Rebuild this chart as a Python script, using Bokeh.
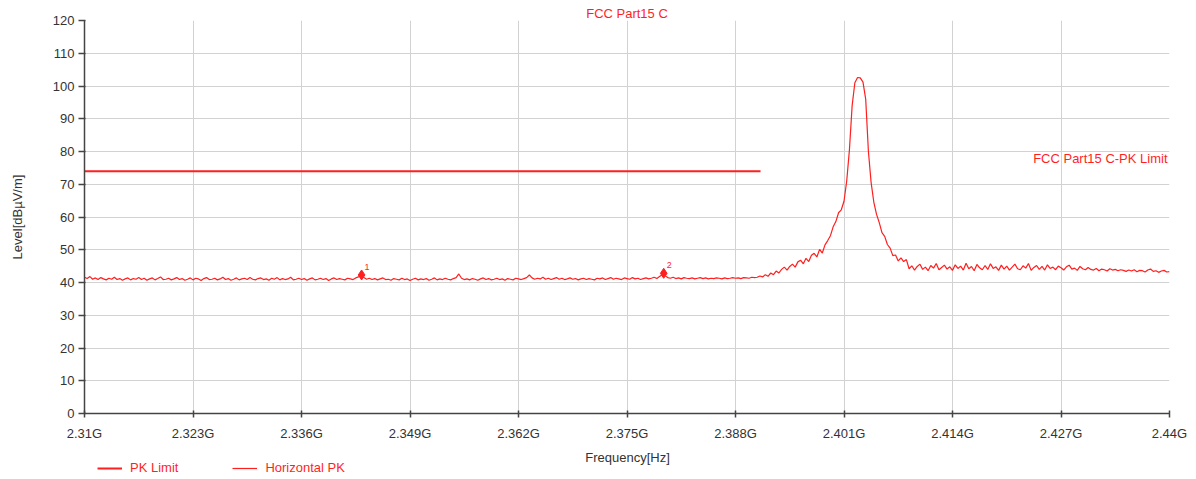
import numpy as np
from bokeh.plotting import figure
from bokeh.layouts import column
from bokeh.models import Label, Legend, LegendItem, FixedTicker, Range1d, ColumnDataSource
from bokeh.embed import file_html
from bokeh.resources import INLINE
from bokeh.core.properties import value

# ---------------- data ----------------
x_ticks = [2.31, 2.323, 2.336, 2.349, 2.362, 2.375, 2.388, 2.401, 2.414, 2.427, 2.44]
x_tick_labels = ["2.31G", "2.323G", "2.336G", "2.349G", "2.362G", "2.375G",
                 "2.388G", "2.401G", "2.414G", "2.427G", "2.44G"]
y_ticks = [0, 10, 20, 30, 40, 50, 60, 70, 80, 90, 100, 110, 120]

FREQ_START_GHZ = 2.31
FREQ_STOP_GHZ = 2.44

# Horizontal PK sweep (dBuV/m), evenly spaced sweep points
level_dbuv = [
    41.6, 41.2, 41.8, 41.0, 41.4, 40.9, 41.5, 41.1, 40.8, 41.3, 41.0, 41.6, 40.9, 41.2, 40.7, 41.1,
    41.4, 40.8, 41.2, 41.0, 41.5, 40.9, 41.3, 40.7, 41.1, 41.4, 40.8, 41.2, 41.7, 40.9, 41.0, 41.3,
    40.8, 41.1, 41.5, 40.9, 41.2, 40.7, 41.0, 41.4, 40.8, 41.3, 41.1, 40.6, 41.2, 41.5, 40.9, 41.0,
    41.3, 40.8, 41.1, 41.6, 40.9, 41.2, 40.7, 41.0, 41.4, 40.8, 41.1, 41.3, 40.9, 41.5, 41.0, 40.8,
    41.2, 41.4, 40.9, 41.1, 40.7, 41.3, 41.0, 41.5, 40.8, 41.2, 40.9, 41.1, 41.6, 40.8, 41.0, 41.3,
    40.9, 41.2, 40.7, 41.1, 41.4, 40.8, 41.0, 41.3, 40.9, 41.2, 40.6, 41.1, 41.4, 40.9, 41.2, 41.0,
    40.8, 41.3, 41.1, 40.9, 41.4, 41.7, 42.2, 41.5, 41.0, 41.3, 40.9, 41.2, 40.8, 41.1, 41.4, 40.9,
    41.0, 40.7, 41.2, 41.0, 40.8, 41.3, 40.9, 41.1, 40.6, 41.0, 41.3, 40.8, 41.1, 40.9, 41.2, 40.7,
    41.0, 41.4, 40.8, 41.1, 40.9, 41.3, 41.0, 40.8, 41.2, 41.5, 42.6, 41.3, 40.9, 41.1, 40.8, 41.2,
    41.0, 40.7, 41.1, 41.4, 40.9, 41.2, 40.8, 41.0, 41.3, 40.9, 41.1, 40.7, 41.2, 41.0, 40.8, 41.3,
    41.1, 40.9, 41.2, 41.5, 42.3, 41.4, 41.0, 41.3, 41.1, 41.6, 41.0, 41.3, 40.9, 41.2, 41.5, 41.0,
    41.3, 40.9, 41.1, 41.4, 41.0, 41.2, 40.8, 41.1, 41.3, 40.9, 41.2, 41.0, 40.8, 41.3, 41.1, 41.4,
    40.9, 41.2, 41.5, 41.0, 41.3, 41.1, 40.9, 41.4, 41.2, 41.0, 41.5, 41.1, 41.3, 40.9, 41.2, 41.4,
    41.1, 41.3, 41.6, 41.2, 41.8, 42.4, 42.1, 41.5, 41.3, 41.6, 41.2, 41.4, 41.1, 41.5, 41.3, 41.2,
    41.4, 41.1, 41.3, 41.5, 41.2, 41.4, 41.1, 41.3, 41.2, 41.4, 41.3, 41.1, 41.4, 41.2, 41.3, 41.5,
    41.3, 41.4, 41.2, 41.5, 41.4, 41.3, 41.6, 41.5,
    41.6, 42.0, 41.7, 42.4, 41.9, 42.9, 42.4, 43.5, 42.9, 44.0, 44.7, 43.8, 44.9, 45.6, 44.7, 46.3,
    46.8, 45.7, 47.4, 46.4, 48.3, 48.9, 47.8, 50.1, 49.0, 51.5, 52.8, 54.3, 57.0, 58.6, 61.3, 62.2,
    64.8, 71.0, 80.5, 94.0, 101.0, 102.6, 102.5, 101.2, 96.0, 80.0, 70.5, 64.5, 60.8, 58.3, 55.2, 54.1,
    51.6, 50.5, 48.2, 48.4, 46.6, 47.5, 46.4, 47.0,
    44.2, 45.1, 43.8, 44.9, 45.6, 44.0, 44.7, 43.6, 45.2, 44.4, 45.8, 43.9, 44.6, 45.3, 44.1, 44.8,
    43.7, 45.4, 44.3, 45.0, 43.8, 45.9, 44.2, 44.9, 43.6, 45.5, 44.5, 43.9, 45.2, 44.0, 45.7, 44.3,
    44.8, 43.7, 45.3, 44.1, 45.0, 43.8, 44.7, 45.6, 44.2, 43.9, 45.1, 44.4, 45.8, 43.7, 44.6, 45.2,
    44.0, 44.9, 43.8, 45.4, 44.3, 44.7, 43.9, 45.0, 44.5, 43.8, 44.8, 45.3, 44.1, 44.4, 43.7, 44.9,
    44.2, 43.9, 44.6, 44.0, 43.8, 44.3, 43.6, 44.1, 43.9, 43.5, 44.2, 43.8, 44.0, 43.6, 43.9, 43.7,
    43.4, 43.8, 43.5, 43.9, 43.3, 43.7, 43.6, 43.2, 43.8, 44.1, 43.4, 43.6, 43.1, 43.5, 43.7, 43.2,
    43.3,
]
freq_ghz = np.linspace(FREQ_START_GHZ, FREQ_STOP_GHZ, len(level_dbuv))

limit_freq = [2.31, 2.391]
limit_level = [74, 74]
limit_name = "FCC Part15 C-PK Limit"

marker_freq = [2.3432, 2.3794]
marker_level = [42.3, 42.8]
marker_names = ["1", "2"]

legend_labels = ["PK Limit", "Horizontal PK"]

RED = "#ff1f1f"
TXT = "#333333"
FONT = "Liberation Sans"

# ---------------- main figure ----------------
p = figure(frame_width=1085, frame_height=393,
           x_range=Range1d(2.31, 2.44), y_range=Range1d(0, 120),
           output_backend="svg", toolbar_location=None,
           min_border_left=84, min_border_right=27, min_border_top=20, min_border_bottom=30)
p.outline_line_color = None
p.background_fill_color = "white"
p.border_fill_color = "white"

p.title.text = "FCC Part15 C"
p.title.align = "center"
p.title.text_font = FONT
p.title.text_font_size = "13px"
p.title.text_font_style = "normal"
p.title.text_color = RED
p.title.standoff = 0
p.title.offset = -2

p.xaxis.ticker = FixedTicker(ticks=x_ticks)
p.xaxis.major_label_overrides = {t: l for t, l in zip(x_ticks, x_tick_labels)}
p.yaxis.ticker = FixedTicker(ticks=y_ticks)

for ax in (p.xaxis[0], p.yaxis[0]):
    ax.axis_line_color = "#444444"
    ax.axis_line_width = 1.5
    ax.major_tick_line_color = "#444444"
    ax.major_tick_line_width = 1.5
    ax.minor_tick_line_color = None
    ax.major_label_text_font = FONT
    ax.major_label_text_font_size = "13px"
    ax.major_label_text_color = TXT
    ax.axis_label_text_font = FONT
    ax.axis_label_text_font_size = "13px"
    ax.axis_label_text_font_style = "normal"
    ax.axis_label_text_color = TXT

p.yaxis.axis_label = "Level[dBµV/m]"
p.xaxis.major_tick_in = 3
p.xaxis.major_tick_out = 4
p.xaxis.major_label_standoff = 8
p.yaxis.major_tick_in = 1
p.yaxis.major_tick_out = 6
p.yaxis.major_label_standoff = 4
p.yaxis.axis_label_standoff = 25

p.grid.grid_line_color = "#d2d2d2"
p.grid.grid_line_width = 1

p.line(limit_freq, limit_level, line_color=RED, line_width=2)
p.line(freq_ghz, level_dbuv, line_color=RED, line_width=1.2)

p.scatter(marker_freq, marker_level, marker="diamond", size=10, color=RED)
msrc = ColumnDataSource(dict(x=marker_freq, y=marker_level, t=marker_names))
p.text(x="x", y="y", text="t", source=msrc, x_offset=3, y_offset=-5,
       text_baseline="bottom", text_align="left", text_font_size="9px",
       text_color=RED, text_font=value(FONT))

p.add_layout(Label(x=2.44, y=77.9, x_offset=-2, text=limit_name,
                   text_align="right", text_baseline="middle",
                   text_font=FONT, text_font_size="13px", text_color=RED))

# ---------------- footer strip: x-axis title + legend ----------------
# same horizontal geometry as the main figure; x range in pixel units of the page
p2 = figure(frame_width=1085, frame_height=36, x_range=Range1d(84, 1169), y_range=Range1d(0, 36),
            output_backend="svg", toolbar_location=None,
            min_border_left=84, min_border_right=27, min_border_top=0, min_border_bottom=0)
p2.axis.visible = False
p2.grid.visible = False
p2.outline_line_color = None
p2.background_fill_color = "white"
p2.border_fill_color = "white"

# legend proxies (same series, fall outside this strip's range so only the swatches show)
g_limit = p2.line(limit_freq, limit_level, line_color=RED, line_width=2)
g_trace = p2.line(freq_ghz, level_dbuv, line_color=RED, line_width=1.2)

p2.add_layout(Label(x=627, y=22, text="Frequency[Hz]", text_align="center",
                    text_baseline="middle", text_font=FONT, text_font_size="13px",
                    text_color=TXT))

legend = Legend(items=[LegendItem(label=legend_labels[0], renderers=[g_limit]),
                       LegendItem(label=legend_labels[1], renderers=[g_trace])],
                location=(13, 4), orientation="horizontal",
                padding=0, margin=0, spacing=54, glyph_width=25, glyph_height=14,
                label_height=14, label_standoff=8, label_text_font=FONT,
                label_text_font_size="13px", label_text_color=RED,
                background_fill_alpha=0, border_line_color=None)
p2.add_layout(legend, "center")

layout = column(p, p2, spacing=0)
open("out.html", "w").write(file_html(layout, INLINE))
